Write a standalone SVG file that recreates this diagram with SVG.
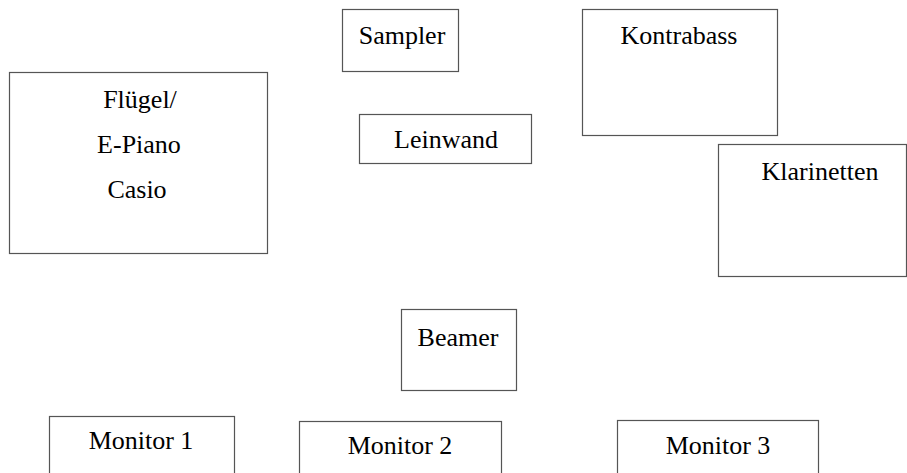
<svg xmlns="http://www.w3.org/2000/svg" width="907" height="473" viewBox="0 0 907 473">
<style>
rect{fill:#fff;stroke:#555;stroke-width:1.2}
text{font-family:"Liberation Serif","Times New Roman",serif;font-size:26px;fill:#000;text-anchor:middle}
</style>
<rect x="0" y="0" width="907" height="473" style="stroke:none"/>
<g id="fluegel"><rect x="9.5" y="72.5" width="258" height="181"/><text x="140" y="108">Flügel/</text><text x="139" y="153">E-Piano</text><text x="137" y="198">Casio</text></g>
<g id="sampler"><rect x="342.5" y="9.5" width="116" height="62"/><text x="402" y="44">Sampler</text></g>
<g id="leinwand"><rect x="359.5" y="114.5" width="172" height="49"/><text x="446" y="148">Leinwand</text></g>
<g id="kontrabass"><rect x="582.5" y="9.5" width="195" height="126"/><text x="679" y="44">Kontrabass</text></g>
<g id="klarinetten"><rect x="718.5" y="144.5" width="188" height="132"/><text x="820" y="180">Klarinetten</text></g>
<g id="beamer"><rect x="401.5" y="309.5" width="115" height="81"/><text x="458" y="346">Beamer</text></g>
<g id="monitor1"><rect x="49.5" y="416.5" width="185" height="70"/><text x="141" y="449">Monitor 1</text></g>
<g id="monitor2"><rect x="299.5" y="421.5" width="202" height="70"/><text x="400" y="454">Monitor 2</text></g>
<g id="monitor3"><rect x="617.5" y="420.5" width="201" height="70"/><text x="718" y="454">Monitor 3</text></g>
<g id="connectors"></g>
</svg>
